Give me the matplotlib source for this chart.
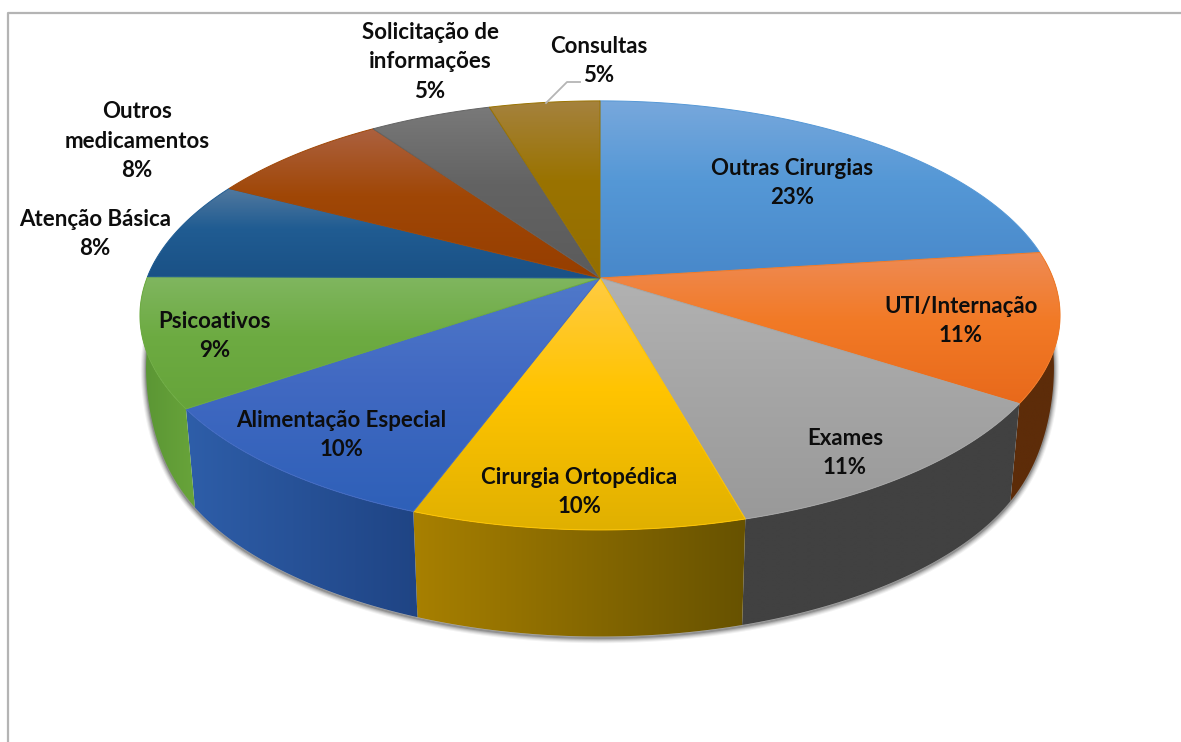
import numpy as np
import matplotlib
matplotlib.use("Agg")
import matplotlib.pyplot as plt
from matplotlib.colors import to_rgb
from matplotlib.patches import Polygon

# dados do grafico
labels = ["Outras Cirurgias", "UTI/Internação", "Exames", "Cirurgia Ortopédica",
          "Alimentação Especial", "Psicoativos", "Atenção Básica",
          "Outros\nmedicamentos", "Solicitação de\ninformações", "Consultas"]
pct_labels = ["23%", "11%", "11%", "10%", "10%", "9%", "8%", "8%", "5%", "5%"]
shares = [23.0, 11.2, 11.5, 9.9, 9.8, 9.7, 7.6, 7.6, 5.1, 4.6]

# cor do topo de cada fatia: claro, meio, fundo
top_colors = [("#78a8dc", "#5598d6", "#4888ca"),
              ("#ee8b55", "#f27a26", "#e8691b"),
              ("#b2b2b2", "#a6a6a6", "#999999"),
              ("#ffcb42", "#ffc400", "#e0b000"),
              ("#5079ca", "#4169c2", "#2e60b8"),
              ("#80b660", "#6dab42", "#66a43a"),
              ("#52799f", "#205c92", "#1a5186"),
              ("#ac6140", "#a04706", "#963e00"),
              ("#797979", "#636363", "#5b5b5b"),
              ("#a5823e", "#9a7300", "#946e00")]
# cor da lateral: esquerda, direita
side_colors = [("#5d2c09", "#5d2c09"), ("#5d2c09", "#5d2c09"),
               ("#414141", "#414141"), ("#a88000", "#675200"),
               ("#2e5ea9", "#1f4484"), ("#5a9534", "#68a43a"),
               ("#1f4484", "#1f4484"), ("#5d2c09", "#5d2c09"),
               ("#414141", "#414141"), ("#675200", "#675200")]

label_pos = [(792, 183), (961, 321), (845, 453), (579, 492), (341, 435),
             (215, 336), (95, 234), (137, 141), (430, 62), (599, 61)]

# geometria da pizza (pixels da imagem)
cx, cy = 600, 278
rx, ry, k = 453, 208, 0.1744
depth_cy, scale_x, scale_y = 372, 0.978, 1.05
edge_lift, edge_out = 46, 5

W, H = 1181, 742
fig = plt.figure(figsize=(W / 100, H / 100), dpi=100)
ax = fig.add_axes([0, 0, 1, 1])


def top_xy(theta):
    c, s = np.sin(theta), np.cos(theta)
    d = 1 + k * s
    return rx * c / d, -ry * s / d


def top_pts(theta):
    x, y = top_xy(theta)
    return np.column_stack([cx + x, cy + y])


def low_pts(theta):
    x, y = top_xy(theta)
    # nas pontas a base sobe um pouco, senao fica um degrau na silhueta
    w = np.abs(np.sin(theta)) ** 16
    return np.column_stack([cx + scale_x * x + edge_out * w * np.sign(np.sin(theta)),
                            depth_cy + scale_y * y - edge_lift * w])


def gradient_poly(verts, colors, vertical, stops, z, edge=None):
    x0, y0 = verts.min(axis=0)
    x1, y1 = verts.max(axis=0)
    rgb = np.array([to_rgb(c) for c in colors])
    t = np.linspace(0, 1, 256)
    ramp = np.column_stack([np.interp(t, stops, rgb[:, i]) for i in range(3)])
    if vertical:
        arr = np.repeat(ramp[:, None, :], 2, axis=1)
    else:
        arr = np.repeat(ramp[None, :, :], 2, axis=0)
    im = ax.imshow(arr, extent=(x0, x1, y1, y0), aspect="auto", zorder=z,
                   interpolation="bilinear")
    clip = Polygon(verts, closed=True, fc="none", ec="none", transform=ax.transData)
    ax.add_patch(clip)
    im.set_clip_path(clip)
    if edge is not None:
        ax.add_patch(Polygon(verts, closed=True, fc="none", ec=edge, lw=0.7, zorder=z + 0.1))


edges = np.radians(np.cumsum([0] + shares) * 3.6)

# sombra sob a lateral
arc = low_pts(np.radians(np.linspace(88, 272, 400)))
for lw, a in [(7.5, 0.05), (6, 0.07), (4.5, 0.09), (3, 0.12), (1.5, 0.18)]:
    ax.plot(arc[:, 0], arc[:, 1] + 1.5, color="black", alpha=a, lw=lw, zorder=1,
            solid_capstyle="round")

# lateral
for i in range(len(shares)):
    a0, a1 = max(edges[i], np.radians(85)), min(edges[i + 1], np.radians(275))
    if a1 <= a0:
        continue
    th = np.linspace(a0, a1, 120)
    verts = np.vstack([top_pts(th), low_pts(th)[::-1]])
    gradient_poly(verts, side_colors[i], False, [0, 1], 2)

# topo
for i in range(len(shares)):
    th = np.linspace(edges[i], edges[i + 1], 200)
    verts = np.vstack([[[cx, cy]], top_pts(th)])
    gradient_poly(verts, top_colors[i], True, [0, 0.45, 1], 3 + i * 0.2, edge=top_colors[i][1])

# moldura
ax.plot([W, 8, 8], [13, 13, H], color="#b4b4b4", lw=1.6, zorder=6)

# linha de chamada de Consultas
ax.plot([546, 567, 580], [103, 82, 82], color="#b5b5b5", lw=1.3, zorder=6)

for name, pct, (x, y) in zip(labels, pct_labels, label_pos):
    ax.text(x, y, name + "\n" + pct, ha="center", va="center", multialignment="center",
            family="Lato", fontweight="bold", fontsize=16, color="#0d0d0d",
            linespacing=1.5, zorder=7)

ax.set_xlim(0, W)
ax.set_ylim(H, 0)
ax.axis("off")
fig.savefig("out.png", dpi=100, facecolor="white")
